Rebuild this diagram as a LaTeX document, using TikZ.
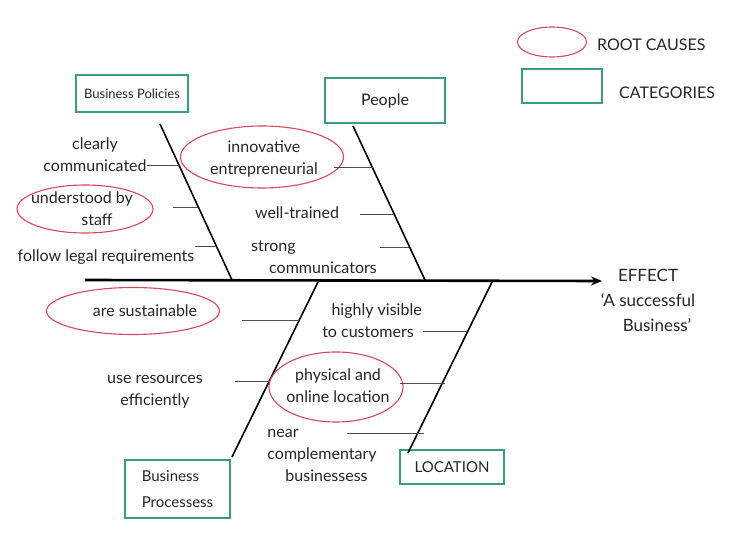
\documentclass[tikz,border=0pt]{standalone}
\usepackage{fontspec}
\setmainfont{Lato}
\usetikzlibrary{arrows.meta,shapes.geometric}
\definecolor{rootred}{HTML}{D9475F}
\definecolor{catgreen}{HTML}{3A9E7A}
\definecolor{ink}{HTML}{262626}
\begin{document}
\begin{tikzpicture}[x=1pt,y=-1pt,
  cat/.style={draw=catgreen, line width=1.1pt, rectangle, inner sep=0pt, font=\fontsize{13}{16}\selectfont, text=ink},
  root/.style={draw=rootred, line width=1.1pt, ellipse, inner sep=0pt},
  bone/.style={line width=1.6pt, draw=black},
  spine/.style={line width=2.6pt, draw=black, -{Stealth[length=11pt,width=9pt]}},
  twig/.style={line width=1pt, draw=black!70},
  lbl/.style={font=\fontsize{16}{22}\selectfont, align=center, text=ink, inner sep=0pt}
]
\useasboundingbox[fill=white] (0,0) rectangle (750,553);

% legend
\node[root, minimum width=69pt, minimum height=30pt] (legroot) at (552,42) {};
\node[lbl, anchor=west] (legroottxt) at (597,45) {ROOT CAUSES};
\node[cat, minimum width=80pt, minimum height=34pt] (legcat) at (562,86) {};
\node[lbl, anchor=west] (legcattxt) at (619,93) {CATEGORIES};

% category boxes
\node[cat, minimum width=112pt, minimum height=37pt] (bp) at (132,93.5) {Business Policies};
\node[cat, minimum width=120pt, minimum height=45pt, font=\fontsize{16}{18}\selectfont] (ppl) at (385,100.5) {People};
\node[cat, minimum width=105pt, minimum height=58pt, align=left, font=\fontsize{15}{26}\selectfont] (proc) at (177.5,489) {Business\\Processess};
\node[cat, minimum width=104pt, minimum height=34pt, font=\fontsize{15}{17}\selectfont] (loc) at (452,467) {LOCATION};

% spine
\coordinate (tail) at (85,280);
\coordinate (head) at (602,281);
\draw[spine] (tail) -- (head);
\node[lbl, align=center, font=\fontsize{17}{25}\selectfont] (effect) at (648,300) {EFFECT\\`A successful\\\hspace*{18pt}Business'};

% bones
\coordinate (b1t) at (160,124); \coordinate (b1b) at (232,280);
\coordinate (b2t) at (353,126); \coordinate (b2b) at (425,280);
\coordinate (b3t) at (318,282); \coordinate (b3b) at (232,457);
\coordinate (b4t) at (492,282); \coordinate (b4b) at (408,453);
\draw[bone] (b1t) -- (b1b);
\draw[bone] (b2t) -- (b2b);
\draw[bone] (b3t) -- (b3b);
\draw[bone] (b4t) -- (b4b);

% Business Policies causes
\node[lbl] (c1) at (95,155) {clearly\\communicated};
\node[root, minimum width=136pt, minimum height=48pt] (c2) at (85,209) {};
\node[lbl] (c2txt) at (82,209) {understood by\\\hspace*{30pt}staff};
\node[lbl] (c3) at (106,257) {follow legal requirements};
\coordinate (t1a) at (147,166); \coordinate (t1b) at (179,166);
\coordinate (t2a) at (173,208); \coordinate (t2b) at (198,208);
\coordinate (t3a) at (195,247); \coordinate (t3b) at (216,247);
\draw[twig] (t1a) -- (t1b);
\draw[twig] (t2a) -- (t2b);
\draw[twig] (t3a) -- (t3b);

% People causes
\node[root, minimum width=163pt, minimum height=62pt] (p1) at (262,157) {};
\node[lbl] (p1txt) at (264,159) {innovative\\entrepreneurial};
\node[lbl] (p2) at (297,213) {well-trained};
\node[lbl, align=left] (p3) at (314,257) {strong\\\hspace*{18pt}communicators};
\coordinate (t4a) at (334,168); \coordinate (t4b) at (373,168);
\coordinate (t5a) at (360,215); \coordinate (t5b) at (394,215);
\coordinate (t6a) at (380,248); \coordinate (t6b) at (409,248);
\draw[twig] (t4a) -- (t4b);
\draw[twig] (t5a) -- (t5b);
\draw[twig] (t6a) -- (t6b);

% Business Processes causes
\node[root, minimum width=173pt, minimum height=47pt] (s1) at (133,311) {};
\node[lbl] (s1txt) at (145,311) {are sustainable};
\node[lbl] (s2) at (155,392) {use resources\\efficiently};
\coordinate (t7a) at (242,321); \coordinate (t7b) at (299,321);
\coordinate (t8a) at (235,382); \coordinate (t8b) at (270,382);
\draw[twig] (t7a) -- (t7b);
\draw[twig] (t8a) -- (t8b);

% Location causes
\node[lbl, align=right] (l1) at (372,321) {highly visible\\to customers\hspace*{8pt}};
\node[root, minimum width=134pt, minimum height=70pt] (l2) at (336,387) {};
\node[lbl] (l2txt) at (338,386) {physical and\\online location};
\node[lbl, align=left] (l3) at (322,455) {near\\complementary\\\hspace*{18pt}businessess};
\coordinate (t9a) at (423,332); \coordinate (t9b) at (467,332);
\coordinate (t10a) at (400,384); \coordinate (t10b) at (445,384);
\coordinate (t11a) at (347,433); \coordinate (t11b) at (424,433);
\draw[twig] (t9a) -- (t9b);
\draw[twig] (t10a) -- (t10b);
\draw[twig] (t11a) -- (t11b);
\end{tikzpicture}
\end{document}
